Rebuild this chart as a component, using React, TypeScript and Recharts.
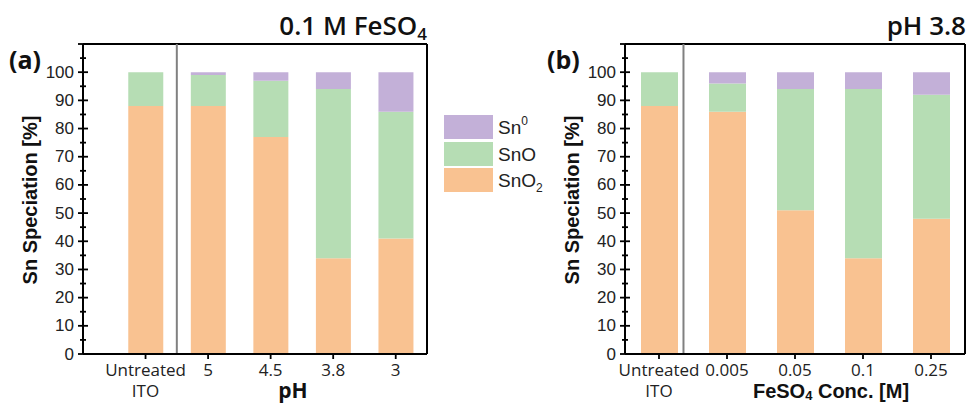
import React from "react";
import { BarChart, Bar, XAxis, YAxis, ReferenceLine } from "recharts";

// panel (a): 0.1 M FeSO4, varying pH
const phLabels = ["Untreated\nITO", "5", "4.5", "3.8", "3"];
const phSnO2 = [88, 88, 77, 34, 41];
const phSnO = [12, 11, 20, 60, 45];
const phSn0 = [0, 1, 3, 6, 14];

// panel (b): pH 3.8, varying FeSO4 concentration
const concLabels = ["Untreated\nITO", "0.005", "0.05", "0.1", "0.25"];
const concSnO2 = [88, 86, 51, 34, 48];
const concSnO = [12, 10, 43, 60, 44];
const concSn0 = [0, 4, 6, 6, 8];

const yTicks = [0, 5, 10, 15, 20, 25, 30, 35, 40, 45, 50, 55, 60, 65, 70, 75, 80, 85, 90, 95, 100, 105, 110];
const xTicks = [1, 2, 3, 4, 5];

const COLORS = {
  SnO2: "#f9c291",
  SnO: "#b6ddb4",
  Sn0: "#c3b0d8",
};

const TICK_FONT = "'Liberation Sans', Arial, sans-serif";
const LABEL_FONT = "'Open Sans', sans-serif";

const build = (labels: string[], a: number[], b: number[], c: number[]) =>
  labels.map((label, i) => ({ x: i + 1, label, SnO2: a[i], SnO: b[i], Sn0: c[i] }));

const LeftTick = (p: any) => {
  const { x, y, payload } = p;
  const v = payload.value;
  const major = v % 10 === 0;
  const len = major ? 5 : 3;
  return (
    <g>
      <line x1={x - len} x2={x + len} y1={y} y2={y} stroke="#000" strokeWidth={1.8} />
      {major && v <= 100 && (
        <text x={x - 9} y={y} textAnchor="end" dominantBaseline="central" fontFamily={TICK_FONT} fontSize={17} fill="#222">
          {v}
        </text>
      )}
    </g>
  );
};

const RightTick = (p: any) => {
  const { x, y } = p;
  return <line x1={x} x2={x - 6} y1={y} y2={y} stroke="#000" strokeWidth={1.8} />;
};

const makeBottomTick = (labels: string[]) => (p: any) => {
  const { x, y, payload } = p;
  const lines = labels[payload.value - 1].split("\n");
  return (
    <g>
      <line x1={x} x2={x} y1={y} y2={y + 5} stroke="#000" strokeWidth={1.8} />
      <text x={x} y={y + 22} textAnchor="middle" fontFamily={LABEL_FONT} fontSize={17} fill="#222">
        {lines.map((l, i) => (
          <tspan key={i} x={x} dy={i === 0 ? 0 : 21}>
            {l}
          </tspan>
        ))}
      </text>
    </g>
  );
};

interface PanelProps {
  labels: string[];
  data: ReturnType<typeof build>;
  left: number;
  width: number;
  yWidth: number;
  rWidth: number;
  domain: [number, number];
  divider: number;
  barSize: number;
}

function Panel({ labels, data, left, width, yWidth, rWidth, domain, divider, barSize }: PanelProps) {
  return (
    <div style={{ position: "absolute", left, top: 0 }}>
      <BarChart width={width} height={404} data={data} margin={{ top: 44, right: 0, bottom: 0, left: 0 }}>
        <XAxis
          dataKey="x"
          type="number"
          domain={domain}
          ticks={xTicks}
          interval={0}
          height={50}
          tickSize={0}
          tickMargin={0}
          tick={makeBottomTick(labels)}
          axisLine={{ stroke: "#000", strokeWidth: 2 }}
        />
        <YAxis
          type="number"
          domain={[0, 110]}
          ticks={yTicks}
          interval={0}
          width={yWidth}
          tickSize={0}
          tickMargin={0}
          tick={LeftTick}
          axisLine={{ stroke: "#000", strokeWidth: 2 }}
        />
        <YAxis
          yAxisId="right"
          orientation="right"
          type="number"
          domain={[0, 110]}
          ticks={yTicks}
          interval={0}
          width={rWidth}
          tickSize={0}
          tickMargin={0}
          tick={RightTick}
          axisLine={{ stroke: "#000", strokeWidth: 2 }}
        />
        <ReferenceLine y={110} stroke="#000" strokeWidth={2} />
        <ReferenceLine x={divider} stroke="#808080" strokeWidth={2} />
        <Bar dataKey="SnO2" stackId="s" fill={COLORS.SnO2} barSize={barSize} isAnimationActive={false} />
        <Bar dataKey="SnO" stackId="s" fill={COLORS.SnO} barSize={barSize} isAnimationActive={false} />
        <Bar dataKey="Sn0" stackId="s" fill={COLORS.Sn0} barSize={barSize} isAnimationActive={false} />
      </BarChart>
    </div>
  );
}

export default function App() {
  const phData = build(phLabels, phSnO2, phSnO, phSn0);
  const concData = build(concLabels, concSnO2, concSnO, concSn0);

  const legend = [
    { key: "Sn0", y: 115, name: "Sn", sup: "0" },
    { key: "SnO", y: 142, name: "SnO" },
    { key: "SnO2", y: 168, name: "SnO", sub: "2" },
  ];

  return (
    <div style={{ position: "absolute", left: 0, top: 0, width: 968, height: 404, background: "#fff", overflow: "hidden" }}>
      <Panel labels={phLabels} data={phData} left={0} width={450} yWidth={83} rWidth={23} domain={[0, 5.5]} divider={1.5} barSize={35} />
      <Panel labels={concLabels} data={concData} left={540} width={428} yWidth={85} rWidth={3} domain={[0.5, 5.5]} divider={1.36} barSize={37} />

      <svg width={968} height={404} style={{ position: "absolute", left: 0, top: 0, pointerEvents: "none" }}>
        {/* titles */}
        <text x={427} y={35} textAnchor="end" fontFamily={LABEL_FONT} fontWeight={600} fontSize={26} fill="#111">
          0.1 M FeSO<tspan fontSize={17} dy={5}>4</tspan>
        </text>
        <text x={966} y={35} textAnchor="end" fontFamily={LABEL_FONT} fontWeight={600} fontSize={26} fill="#111">
          pH 3.8
        </text>
        <text x={9} y={69} fontFamily={LABEL_FONT} fontWeight={700} fontSize={25} fill="#111">
          (a)
        </text>
        <text x={547} y={69} fontFamily={LABEL_FONT} fontWeight={700} fontSize={25} fill="#111">
          (b)
        </text>

        {/* y axis titles */}
        {[30, 572].map((cx) => (
          <text
            key={cx}
            x={cx}
            y={200}
            transform={`rotate(-90 ${cx} 200)`}
            textAnchor="middle"
            dominantBaseline="central"
            fontFamily={TICK_FONT}
            fontWeight={700}
            fontSize={20}
            fill="#111"
          >
            Sn Speciation [%]
          </text>
        ))}

        {/* x axis titles */}
        <text x={293} y={398} textAnchor="middle" fontFamily={LABEL_FONT} fontWeight={700} fontSize={21} fill="#111">
          pH
        </text>
        <text x={831} y={398} textAnchor="middle" fontFamily={TICK_FONT} fontWeight={700} fontSize={20} fill="#111">
          FeSO<tspan fontSize={13} dy={2}>4</tspan>
          <tspan dy={-2}> Conc. [M]</tspan>
        </text>

        {/* legend */}
        {legend.map((l) => (
          <g key={l.key}>
            <rect x={444} y={l.y} width={49} height={24} fill={(COLORS as any)[l.key]} />
            <text x={498} y={l.y + 19} fontFamily={TICK_FONT} fontSize={19} fill="#222">
              {l.name}
              {l.sup && (
                <tspan fontSize={12} dy={-9}>
                  {l.sup}
                </tspan>
              )}
              {l.sub && (
                <tspan fontSize={12} dy={5}>
                  {l.sub}
                </tspan>
              )}
            </text>
          </g>
        ))}
      </svg>
    </div>
  );
}
